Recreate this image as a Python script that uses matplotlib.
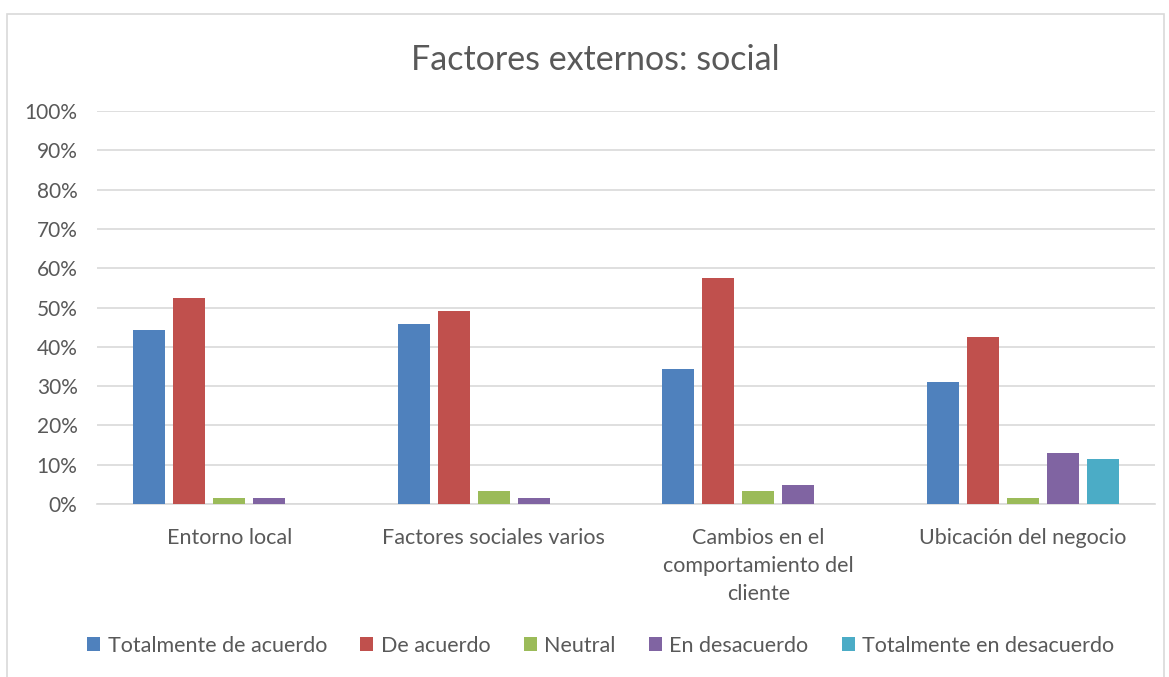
# bar chart: Factores externos: social
import numpy as np
import matplotlib.pyplot as plt
from matplotlib.patches import Rectangle

plt.rcParams['font.family'] = ['Lato', 'DejaVu Sans']

categories = ['Entorno local', 'Factores sociales varios',
              'Cambios en el\ncomportamiento del\ncliente', 'Ubicación del negocio']
series = ['Totalmente de acuerdo', 'De acuerdo', 'Neutral', 'En desacuerdo',
          'Totalmente en desacuerdo']

totalmente_acuerdo = [44.3, 45.9, 34.4, 31.1]
de_acuerdo = [52.5, 49.2, 57.4, 42.6]
neutral = [1.6, 3.3, 3.3, 1.6]
en_desacuerdo = [1.6, 1.6, 4.9, 13.1]
totalmente_desacuerdo = [0.0, 0.0, 0.0, 11.5]

values = [totalmente_acuerdo, de_acuerdo, neutral, en_desacuerdo, totalmente_desacuerdo]
colors = ['#4F81BD', '#C0504D', '#9BBB59', '#8064A2', '#4BACC6']
text_col = '#595959'

fig = plt.figure(figsize=(11.69, 6.77), dpi=100)
ax = fig.add_axes([0.083, 0.2555, 0.905, 0.5805])

x = np.arange(len(categories))
pitch = 0.151
width = 0.121
for i, (name, vals) in enumerate(zip(series, values)):
    ax.bar(x + (i - 2) * pitch, vals, width, color=colors[i], label=name, zorder=3)

ax.set_xlim(-0.5, len(categories) - 0.5)
ax.set_ylim(0, 100)
ax.set_yticks(np.arange(0, 101, 10))
ax.set_yticklabels([f'{v}%' for v in range(0, 101, 10)], fontsize=15, color=text_col)
ax.yaxis.grid(True, color='#D9D9D9', linewidth=1.2, zorder=0)
ax.set_xticks(x)
ax.set_xticklabels(categories, fontsize=15.5, color=text_col, linespacing=1.5, va='top')
ax.tick_params(axis='both', length=0)
ax.tick_params(axis='x', pad=17)
ax.tick_params(axis='y', pad=14)
for s in ['top', 'right', 'left']:
    ax.spines[s].set_visible(False)
ax.spines['bottom'].set_color('#D9D9D9')
ax.spines['bottom'].set_linewidth(1.2)

fig.text(0.509, 0.912, 'Factores externos: social', ha='center', va='center',
         fontsize=24.5, color=text_col)

leg = fig.legend(loc='center', bbox_to_anchor=(0.514, 0.046), ncol=5, frameon=False,
                 fontsize=15.5, handlelength=0.6, handleheight=0.6, handletextpad=0.35,
                 columnspacing=1.55)
for t in leg.get_texts():
    t.set_color(text_col)

# chart border
fig.patches.append(Rectangle((0.006, -0.05), 0.99, 1.03, transform=fig.transFigure,
                             fill=False, edgecolor='#D9D9D9', linewidth=1.2))

fig.savefig('out.png', dpi=100)
